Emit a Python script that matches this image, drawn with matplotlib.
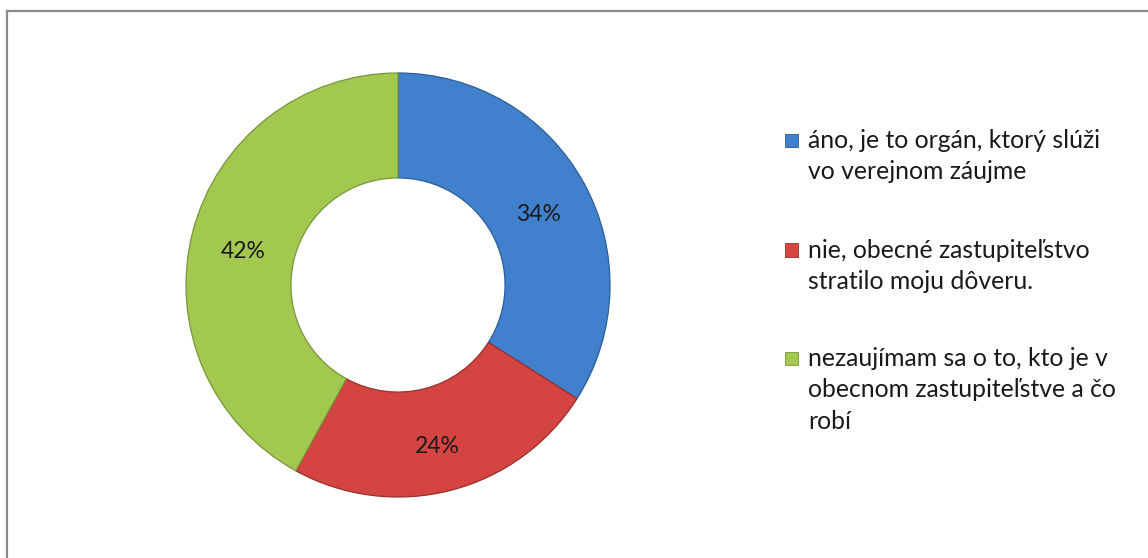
import matplotlib
matplotlib.use("Agg")
import matplotlib.pyplot as plt
from matplotlib.lines import Line2D
from matplotlib.patches import Rectangle

categories = [
    "áno, je to orgán, ktorý slúži\nvo verejnom záujme",
    "nie, obecné zastupiteľstvo\nstratilo moju dôveru.",
    "nezaujímam sa o to, kto je v\nobecnom zastupiteľstve a čo\nrobí",
]
values = [34, 24, 42]
colors = ["#4180cc", "#d44441", "#a3c850"]
edge_colors = ["#2c5d99", "#9b2f2d", "#76963a"]

W, H = 1148, 558
FONT = ["Lato", "DejaVu Sans"]
fig = plt.figure(figsize=(W / 100, H / 100), dpi=100)
fig.patch.set_facecolor("white")

cx, cy, R = 398, 285, 212
ax = fig.add_axes([(cx - R) / W, (H - cy - R) / H, 2 * R / W, 2 * R / H])
wedges, texts, autotexts = ax.pie(
    values, colors=colors, startangle=90, counterclock=False,
    radius=1.0, autopct="%d%%", pctdistance=0.755,
    wedgeprops=dict(width=0.495, linewidth=0.9),
    textprops=dict(fontsize=16.5, family=FONT, color="#1a1a1a"),
)
for w, ec in zip(wedges, edge_colors):
    w.set_edgecolor(ec)
for t in autotexts:
    x, y = t.get_position()
    t.set_position((x, y - 0.03))
ax.set_xlim(-1, 1)
ax.set_ylim(-1, 1)
ax.set_aspect("equal")
ax.axis("off")

# legend drawn manually (marker aligned with first line, as in the reference)
first_line_y = [140, 250, 358]
for label, col, ec, yc in zip(categories, colors, edge_colors, first_line_y):
    fig.add_artist(Rectangle(((785) / W, 1 - (yc + 6.5) / H), 13 / W, 13 / H,
                             facecolor=col, edgecolor=ec, lw=0.6,
                             transform=fig.transFigure))
    fig.text(808 / W, 1 - (yc - 11) / H, label, ha="left", va="top",
             fontsize=17.8, family=FONT, color="#1a1a1a", linespacing=1.44)

# frame lines (top and left only)
fig.add_artist(Line2D([7 / W, 1.0], [1 - 11 / H, 1 - 11 / H], color="#8a8a8a", lw=1.6,
                      transform=fig.transFigure))
fig.add_artist(Line2D([7 / W, 7 / W], [0.0, 1 - 11 / H], color="#8a8a8a", lw=1.6,
                      transform=fig.transFigure))

fig.savefig("out.png", dpi=100)
